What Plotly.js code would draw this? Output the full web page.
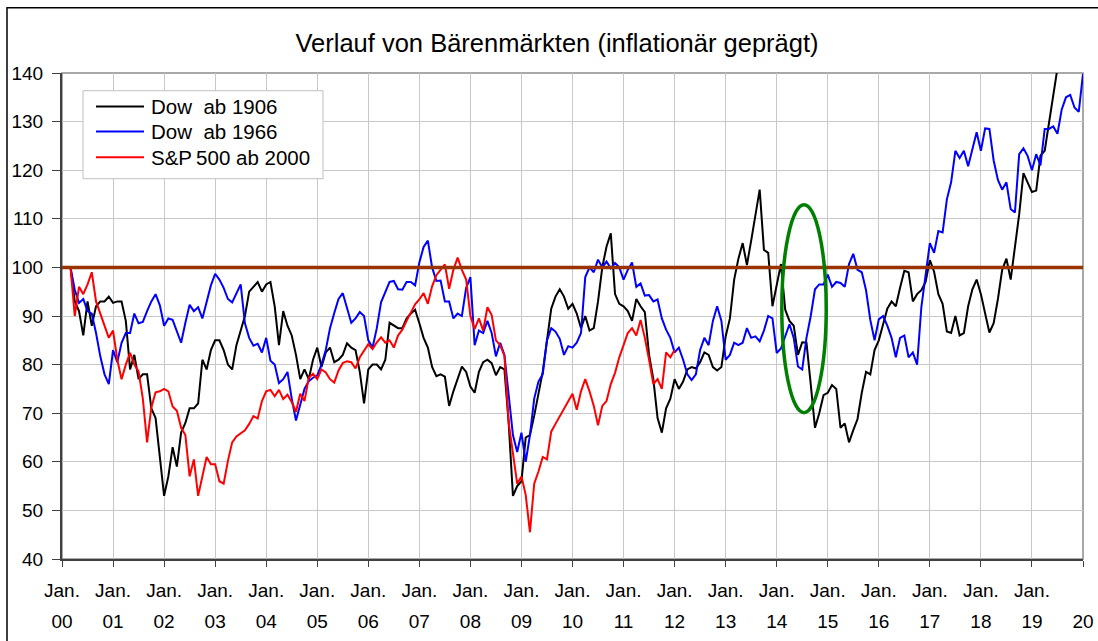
<!DOCTYPE html>
<html>
<head>
<meta charset="utf-8">
<script src="https://cdn.plot.ly/plotly-3.0.1.min.js"></script>
<style>
html,body{margin:0;padding:0;background:#ffffff;}
#chart{width:1098px;height:641px;}
</style>
</head>
<body>
<div id="chart"></div>
<script>
// ---------- data (monthly readings, month index starts at startMonth; x = month/12 years after Jan. 00) ----------
const chartTitle = 'Verlauf von Bärenmärkten (inflationär geprägt)';
const seriesNames = ['Dow\u00a0 ab 1906', 'Dow\u00a0 ab 1966', 'S&P\u2009500 ab 2000'];
const seriesColors = ['#000000', '#0000ff', '#ff0000'];
const startMonth = 2;

const dow1906 = [
  100, 93, 91, 86, 93, 88, 92, 93, 93, 94,
  92.7, 93, 93, 89, 79, 82, 77, 78, 78, 71, 69, 61,
  53, 57, 63, 59, 66, 68, 71, 71, 72, 81, 79, 83,
  85, 85, 83, 80, 79, 84, 87, 90, 95, 96, 97, 95,
  96.5, 97, 92, 84, 91, 88, 86, 82, 77, 79, 77, 81,
  83.5, 79.5, 82.5, 83.5, 80.5, 81, 82, 84.4, 83.5, 83, 78.5, 72,
  79, 80, 80, 79, 81, 88.6, 88, 87.5, 87.5, 89.5, 90.5, 91.3,
  88.5, 85.5, 83.5, 79.5, 77.6, 78, 77.5, 71.5, 74.5, 77, 79.6, 78.5,
  75.5, 74.2, 78.5, 80.5, 81, 80.3, 77.8, 79.5, 79, 68, 53, 55,
  56, 65, 65.5, 69.5, 74, 78.5, 85, 91.5, 94, 95.5, 94, 91.5,
  92.5, 90.5, 87.5, 90, 87, 87.5, 93, 100, 104.3, 107, 94.5, 92.5,
  92, 91, 89, 93.5, 92, 90.8, 82, 77, 69, 66, 71, 73,
  77, 75, 76.5, 79, 79.5, 79.2, 80.5, 82.5, 82, 79.5, 78.8, 79.5,
  85.8, 89.5, 97.5, 101.8, 105, 100.5, 105.5, 111, 116, 103.6, 103, 92,
  96, 100.7, 91.3, 89, 88, 82, 84.6, 84.5, 76, 67, 70, 73.7,
  74.2, 75.8, 75, 67, 67.9, 64, 66.5, 68.8, 74.2, 78.5, 78, 83,
  85, 88, 91.5, 93, 92, 95.8, 99.3, 99, 93, 94.5, 95.3, 97,
  101.5, 99.1, 94.5, 92.5, 86.8, 86.5, 90, 86, 86.5, 92, 95.5, 97.5,
  94.5, 90.5, 86.6, 88.5, 93.5, 99.5, 101.8, 97.5, 104, 110.9, 119.4, 117.5,
  115.5, 115.8, 123, 124, 129.8, 135, 141
];

const dow1966 = [
  100, 95.4, 92.7, 93.5, 91, 90.5, 86.5, 81.7, 78, 76,
  83, 80.5, 84.5, 86.5, 86.5, 90.5, 88.5, 88.8, 91, 93, 94.5, 92.2,
  88, 89.5, 89.2, 87, 84.5, 88.6, 92.3, 91, 91.8, 89.5, 93, 96.3,
  98.7, 97.5, 95.8, 93.5, 92.8, 94.8, 96.5, 88.5, 85.5, 83.9, 84.3, 82.5,
  85.5, 80.8, 80, 76.2, 77, 78.5, 73, 68.5, 72, 75, 76.6, 77.3,
  77.8, 80, 83, 87.5, 90.6, 93.5, 94.7, 91.6, 88.6, 89.5, 90.8, 90,
  85, 83.5, 87.5, 92.8, 95, 97, 97.2, 95.5, 95.4, 97, 97, 96.3,
  101, 104.2, 105.5, 100, 97.2, 97.3, 93, 93, 89.5, 90.5, 90, 95.8,
  98, 84, 87, 86.5, 89, 86.5, 81.7, 84.5, 82, 73, 65.5, 62,
  66, 60, 65.5, 73, 76.5, 78, 85, 87.5, 86.8, 85.3, 82, 83.8,
  83.5, 84.5, 86.5, 98, 100, 99, 101.6, 100, 101.2, 99.8, 100.9, 100,
  97.5, 99.5, 101, 96, 96.7, 94.2, 94.3, 93, 93.4, 89.5, 87.2, 85.5,
  82.5, 83.5, 81, 78, 76.8, 78, 83, 85.5, 84, 89, 92, 89,
  81, 82, 84.5, 84, 84.5, 87.5, 85.5, 85.8, 84.8, 87, 90, 89.5,
  82.4, 83.3, 85.8, 88.3, 85.5, 79.6, 79, 85.5, 90, 95.5, 96.5, 96.5,
  98.5, 96, 97, 96.8, 96, 100.7, 102.8, 99.5, 99, 95.3, 89.2, 85,
  89.3, 90, 88, 85.5, 81.5, 85.5, 86, 81.5, 82.5, 80, 91.8, 99,
  105, 103, 107.5, 107.2, 114, 117.5, 124, 122.5, 124, 120.8, 124.5, 127.8,
  124, 128.6, 128.5, 122, 118, 116, 117.5, 112, 111.3, 123.3, 124.5, 122.9,
  120, 123.3, 121, 128.5, 128.5, 129, 127.5, 132.5, 135, 135.5, 132.9, 132, 139.8
];

const sp500 = [
  100, 90, 96, 94.5, 96.5, 99, 93, 90.6, 88, 85.5,
  87, 81, 77, 80, 82.4, 80, 78.6, 73, 64, 71.2, 74.3, 74.5,
  75, 74.5, 71.4, 70.5, 67, 65.5, 57, 60.5, 53, 57, 61, 59.5,
  59.5, 56, 55.5, 60.2, 64, 65.2, 65.9, 66.5, 67.8, 69.4, 68.9, 72.5,
  74.5, 74.8, 73.5, 74.8, 72.9, 73.8, 72.3, 70.3, 74, 72.5, 77.3, 78.1,
  77, 79, 78.4, 77, 76.3, 78.8, 80.3, 80.7, 80.5, 79.2, 81.5, 83,
  84.2, 83.2, 84.6, 85.6, 84.5, 85, 83.5, 86, 87.2, 89, 90.6, 92.4,
  93.4, 94.7, 92.5, 96.1, 98.4, 99.5, 100.6, 95.6, 99.5, 102, 99.5, 97.5,
  90, 87.3, 89.5, 87, 91.8, 90.2, 85, 84, 81.8, 68, 62, 55.5,
  57, 53.2, 45.5, 55.5, 58, 61, 60.5, 66.2, 67.8, 69.4, 70.9, 72.4,
  74, 70.7, 74.5, 77, 74.5, 71.5, 67.5, 71.5, 72.5, 76, 78.3, 81.5,
  84, 86.5, 87.5, 86, 89.2, 85.5, 81, 76, 77, 75, 82.5, 81.5, 83
];

const refLevel = 100;
const yearTicks = [0,1,2,3,4,5,6,7,8,9,10,11,12,13,14,15,16,17,18,19,20];
const yearLabels = ['00','01','02','03','04','05','06','07','08','09','10','11','12','13','14','15','16','17','18','19','20'];
const monthLabel = 'Jan.';
const yTicks = [40,50,60,70,80,90,100,110,120,130,140];

// ---------- chart ----------
const FONT = 'Liberation Sans, Arial, Helvetica, sans-serif';
const xOf = arr => arr.map((_, i) => (startMonth + i) / 12);

// plot-area geometry in page pixels (for paper-referenced decorations)
const PL = 62, PW = 1021, PT = 73.3, PH = 486, PB = PT + PH;
const px2x = px => (px - PL) / PW;
const py2y = py => (PB - py) / PH;

const traces = [
  {x: xOf(dow1906), y: dow1906, name: seriesNames[0], type: 'scatter', mode: 'lines',
   line: {color: seriesColors[0], width: 2}, hoverinfo: 'skip', showlegend: false},
  {x: xOf(dow1966), y: dow1966, name: seriesNames[1], type: 'scatter', mode: 'lines',
   line: {color: seriesColors[1], width: 2}, hoverinfo: 'skip', showlegend: false},
  {x: xOf(sp500), y: sp500, name: seriesNames[2], type: 'scatter', mode: 'lines',
   line: {color: seriesColors[2], width: 2}, hoverinfo: 'skip', showlegend: false},
  {x: [yearTicks[0], yearTicks[yearTicks.length - 1]], y: [refLevel, refLevel], xaxis: 'x2', yaxis: 'y',
   type: 'scatter', mode: 'lines', line: {color: '#993300', width: 3.5}, showlegend: false, hoverinfo: 'skip'}
];

const tickFont = {family: FONT, size: 19, color: '#000000'};

// legend box drawn as shapes + annotations (real text)
const legendRows = [106.7, 131.9, 157.5];
const shapes = [
  {type: 'rect', xref: 'paper', yref: 'paper', x0: 0, x1: 1, y0: 0, y1: 1,
   line: {color: '#8c8c8c', width: 1.5}, fillcolor: 'rgba(0,0,0,0)', layer: 'below'},
  {type: 'rect', xref: 'paper', yref: 'paper', x0: px2x(7), x1: px2x(1110), y0: py2y(660), y1: py2y(8),
   line: {color: '#000000', width: 1.5}, fillcolor: 'rgba(0,0,0,0)', layer: 'below'},
  {type: 'circle', xref: 'x', yref: 'y', x0: 14.1, x1: 14.97, y0: 70.1, y1: 112.9,
   line: {color: '#008000', width: 3.5}, fillcolor: 'rgba(0,0,0,0)', layer: 'above'},
  {type: 'rect', xref: 'paper', yref: 'paper', x0: px2x(83), x1: px2x(323), y0: py2y(179), y1: py2y(91),
   line: {color: '#c0c0c0', width: 1}, fillcolor: '#ffffff', layer: 'above'}
];
const annotations = [];
legendRows.forEach((py, i) => {
  shapes.push({type: 'line', xref: 'paper', yref: 'paper', x0: px2x(96), x1: px2x(144), y0: py2y(py), y1: py2y(py),
               line: {color: seriesColors[i], width: 2}, layer: 'above'});
  annotations.push({xref: 'paper', yref: 'paper', x: px2x(149), y: py2y(py), xanchor: 'left', yanchor: 'middle',
                    text: seriesNames[i], showarrow: false, font: {family: FONT, size: 20.5, color: '#000000'}});
});

const layout = {
  width: 1098, height: 641,
  margin: {l: 62, r: 15, t: 73, b: 82, pad: 0},
  paper_bgcolor: '#ffffff', plot_bgcolor: '#ffffff',
  title: {text: chartTitle, font: {family: FONT, size: 25.5, color: '#000000'},
          xref: 'paper', x: px2x(557), xanchor: 'center', yref: 'container', y: 1 - 43/641, yanchor: 'middle'},
  showlegend: false,
  xaxis: {range: [0, 20], tickmode: 'array', tickvals: yearTicks, ticktext: yearTicks.map(() => monthLabel),
          showgrid: true, gridcolor: '#c8c8c8', gridwidth: 1, zeroline: false,
          showline: true, linecolor: '#404040', linewidth: 2,
          ticks: 'outside', ticklen: 6, tickwidth: 1, tickcolor: '#404040',
          ticklabelstandoff: 7, tickfont: tickFont, fixedrange: true},
  xaxis2: {overlaying: 'x', anchor: 'y', side: 'bottom', range: [0, 20], tickmode: 'array',
           tickvals: yearTicks, ticktext: yearLabels, showgrid: false, zeroline: false,
           showline: false, ticks: '', ticklabelstandoff: 49, tickfont: tickFont, fixedrange: true},
  yaxis: {range: [40, 140], tickmode: 'array', tickvals: yTicks, showgrid: true, gridcolor: '#c8c8c8',
          gridwidth: 1, zeroline: false, showline: true, linecolor: '#404040', linewidth: 2,
          ticks: 'outside', ticklen: 8, tickwidth: 1, tickcolor: '#404040',
          ticklabelstandoff: 5, tickfont: tickFont, fixedrange: true},
  shapes: shapes,
  annotations: annotations
};

Plotly.newPlot('chart', traces, layout, {staticPlot: true, displayModeBar: false});
</script>
</body>
</html>
